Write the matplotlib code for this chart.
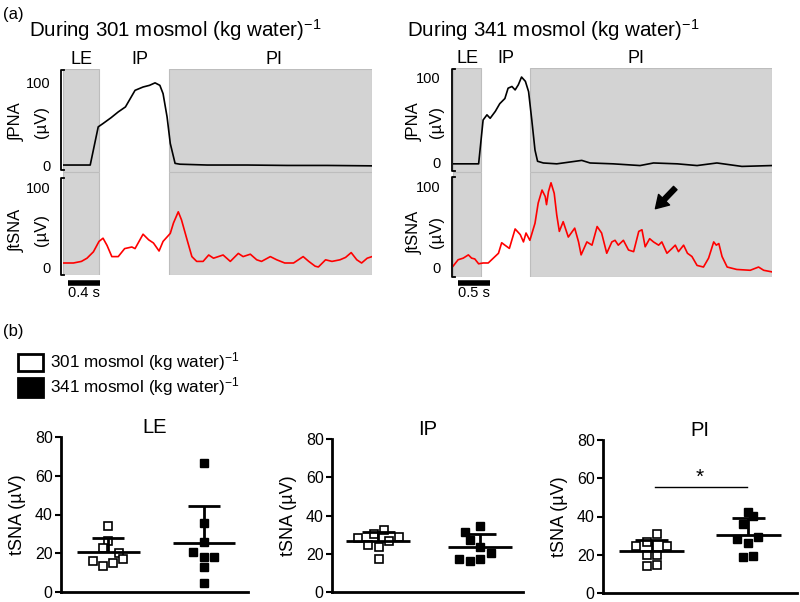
import numpy as np
import matplotlib
matplotlib.use('Agg')
import matplotlib.pyplot as plt
from matplotlib.lines import Line2D
from matplotlib.patches import Rectangle

plt.rcParams['font.family'] = ['Liberation Sans', 'DejaVu Sans']
plt.rcParams['mathtext.fontset'] = 'custom'
plt.rcParams['mathtext.rm'] = 'Liberation Sans'
plt.rcParams['mathtext.it'] = 'Liberation Sans:italic'
plt.rcParams['mathtext.bf'] = 'Liberation Sans:bold'

# ---- (a) traces, time in s, amplitude in uV ----
phases_301 = [0.0, 0.45, 1.33, 3.86]   # LE start, IP start, PI start, end
phases_341 = [0.0, 0.44, 1.20, 4.98]

pna_301_t = [0, 0.34, 0.44, 0.50, 0.60, 0.69, 0.78, 0.84, 0.90, 1.00, 1.08, 1.15,
             1.21, 1.25, 1.30, 1.34, 1.40, 1.46, 1.8, 2.3, 2.8, 3.3, 3.86]
pna_301_v = [0, 0, 46, 50, 57, 64, 70, 80, 90, 94, 96, 99,
             96, 86, 58, 26, 2, 1, 0, 0, -0.5, -0.5, -1]

sna_301_t = [0.00, 0.13, 0.23, 0.30, 0.38, 0.45, 0.50, 0.55, 0.61, 0.69, 0.77, 0.86,
             0.90, 1.00, 1.07, 1.13, 1.20, 1.25, 1.34, 1.38, 1.44, 1.48, 1.55, 1.61,
             1.67, 1.75, 1.82, 1.88, 1.94, 2.00, 2.09, 2.19, 2.25, 2.34, 2.42, 2.48,
             2.59, 2.67, 2.77, 2.88, 3.00, 3.07, 3.15, 3.19, 3.28, 3.36, 3.46, 3.53,
             3.60, 3.67, 3.73, 3.80, 3.86]
sna_301_v = [5, 5, 7, 11, 19, 32, 36, 27, 13, 13, 23, 25,
             23, 41, 34, 30, 20, 32, 42, 55, 69, 59, 34, 13,
             7, 7, 15, 11, 13, 15, 7, 17, 13, 16, 9, 7,
             13, 9, 5, 5, 13, 7, 1, 0, 9, 7, 9, 12,
             18, 9, 5, 11, 13]

pna_341_t = [0, 0.20, 0.40, 0.47, 0.53, 0.58, 0.66, 0.73, 0.81, 0.86, 0.92, 0.97,
             1.02, 1.07, 1.13, 1.18, 1.23, 1.28, 1.32, 1.41, 1.62, 2.01, 2.14, 2.50,
             2.92, 3.13, 3.50, 3.81, 4.12, 4.51, 4.98]
pna_341_v = [-1, -1, -1, 50, 56, 52, 60, 69, 75, 87, 89, 85,
             91, 100, 95, 83, 50, 15, 2, 0, -1, 3, 0, -1,
             -3, 0, -1, -3, 0, -4, -3]

sna_341_t = [0.00, 0.08, 0.16, 0.24, 0.29, 0.34, 0.40, 0.47, 0.55, 0.63, 0.71, 0.76,
             0.81, 0.88, 0.97, 1.05, 1.10, 1.14, 1.20, 1.28, 1.33, 1.39, 1.44, 1.46,
             1.49, 1.53, 1.58, 1.62, 1.66, 1.72, 1.80, 1.90, 1.96, 2.00, 2.09, 2.17,
             2.25, 2.32, 2.40, 2.48, 2.53, 2.58, 2.66, 2.74, 2.82, 2.90, 2.95, 3.00,
             3.07, 3.13, 3.21, 3.26, 3.34, 3.42, 3.47, 3.52, 3.60, 3.66, 3.73, 3.81,
             3.91, 3.99, 4.07, 4.11, 4.15, 4.20, 4.28, 4.43, 4.64, 4.77, 4.85, 4.98]
sna_341_v = [1, 9, 11, 15, 11, 10, 4, 5, 5, 11, 17, 30,
             27, 23, 47, 40, 31, 42, 33, 54, 79, 95, 87, 77,
             93, 104, 91, 64, 44, 56, 37, 48, 31, 15, 31, 27,
             50, 42, 17, 31, 33, 27, 33, 21, 19, 44, 46, 25,
             35, 31, 27, 31, 17, 23, 27, 19, 27, 17, 13, 2,
             0, 11, 31, 27, 29, 13, 0, -3, -4, 0, -4, -6]

# ---- (b) tSNA (uV) per rat ----
groups = ['301 mosmol (kg water)$^{-1}$', '341 mosmol (kg water)$^{-1}$']

le_301 = [34.2, 26.5, 22.9, 20.0, 16.9, 16.2, 14.8, 13.6]
le_301_x = [1.01, 1.01, 0.89, 1.23, 1.33, 0.68, 1.11, 0.89]
le_341 = [66.4, 35.8, 26.0, 20.8, 18.2, 18.2, 12.7, 4.8]
le_341_x = [3.06, 3.06, 3.06, 2.83, 3.06, 3.28, 3.06, 3.06]
le_centers = [1.01, 3.06]

ip_301 = [28.3, 30.2, 32.3, 24.5, 23.6, 26.6, 28.8, 17.1]
ip_301_x = [0.55, 0.87, 1.09, 0.76, 0.98, 1.20, 1.41, 0.98]
ip_341 = [31.4, 34.6, 27.1, 23.6, 20.4, 17.5, 16.1, 17.1]
ip_341_x = [2.79, 3.10, 2.89, 3.10, 3.32, 2.67, 2.89, 3.10]
ip_centers = [0.97, 3.10]

pi_301 = [30.8, 26.7, 24.7, 24.4, 20.0, 20.0, 13.9, 14.4]
pi_301_x = [1.11, 0.90, 0.69, 1.31, 0.90, 1.11, 0.90, 1.11]
pi_341 = [42.3, 40.4, 36.2, 28.4, 29.1, 26.1, 18.8, 19.5]
pi_341_x = [2.98, 3.09, 2.88, 2.77, 3.20, 2.98, 2.88, 3.10]
pi_centers = [1.00, 2.99]

W, H = 800, 602
fig = plt.figure(figsize=(8, 6.02), dpi=100)


def box(l, t, r, b):
    return [l / W, 1 - b / H, (r - l) / W, (b - t) / H]


def ftext(x, y, s, **kw):
    fig.text(x / W, 1 - y / H, s, **kw)


def bracket(x, top, bottom):
    xs = [x + 3, x, x, x + 3]
    ys = [top, top, bottom, bottom]
    fig.add_artist(Line2D([v / W for v in xs], [1 - v / H for v in ys],
                          color='black', lw=1.3))


def trace_axes(rect, edges, t, v, ylim, color):
    ax = fig.add_axes(rect)
    ax.axvspan(edges[0], edges[1], color='#d3d3d3', ec='#bdbdbd', lw=0.8)
    ax.axvspan(edges[2], edges[3], color='#d3d3d3', ec='#bdbdbd', lw=0.8)
    ax.plot(t, v, color=color, lw=1.2)
    ax.set_xlim(edges[0], edges[3])
    ax.set_ylim(*ylim)
    for s in ax.spines.values():
        s.set_visible(False)
    ax.set_xticks([])
    ax.set_yticks([0, 100])
    ax.tick_params(axis='y', length=0, pad=9, labelsize=10.5)
    return ax


# ---------- (a) ----------
ftext(3, 15, '(a)', fontsize=12, va='center')
ftext(29, 37, 'During 301 mosmol (kg water)$^{-1}$', fontsize=14.8, va='baseline')
ftext(407, 37, 'During 341 mosmol (kg water)$^{-1}$', fontsize=14.8, va='baseline')

a1 = trace_axes(box(63, 69, 372, 172), phases_301, pna_301_t, pna_301_v, (-8.4, 115.7), 'black')
a2 = trace_axes(box(63, 172, 372, 275), phases_301, sna_301_t, sna_301_v, (-10, 118.75), '#ff0000')
b1 = trace_axes(box(453, 68, 772, 172), phases_341, pna_341_t, pna_341_v, (-10.5, 110.5), 'black')
b2 = trace_axes(box(453, 172, 772, 277), phases_341, sna_341_t, sna_341_v, (-12.3, 117.3), '#ff0000')

for ax, lx in ((a1, [0.225, 0.96, 2.63]), (b1, [0.22, 0.82, 2.86])):
    for x, name in zip(lx, ['LE', 'IP', 'PI']):
        ax.text(x, 1.01, name, transform=ax.get_xaxis_transform(),
                ha='center', va='bottom', fontsize=13)

bracket(61, 70, 170)
bracket(61, 178, 275)
bracket(452, 69, 171)
bracket(452, 177, 277)

for x0, x1, y in ((17, 42, 122), (415, 436, 122)):
    ftext(x0, y, '∫PNA', rotation=90, ha='center', va='center', fontsize=12)
    ftext(x1, y, '(µV)', rotation=90, ha='center', va='center', fontsize=12)
for x0, x1, y in ((17, 42, 230), (415, 436, 232)):
    ftext(x0, y, '∫tSNA', rotation=90, ha='center', va='center', fontsize=12)
    ftext(x1, y, '(µV)', rotation=90, ha='center', va='center', fontsize=12)

# scale bars
a2.plot([0.06, 0.46], [-20, -20], color='black', lw=4, solid_capstyle='butt', clip_on=False)
a2.text(0.26, -33, '0.4 s', ha='center', va='center', fontsize=10.5)
b2.plot([0.08, 0.58], [-20, -20], color='black', lw=4, solid_capstyle='butt', clip_on=False)
b2.text(0.33, -32, '0.5 s', ha='center', va='center', fontsize=10.5)

# arrow on PI tSNA
b2.annotate('', xy=(3.16, 72), xytext=(3.47, 97.5),
            arrowprops=dict(width=3.5, headwidth=11, headlength=9, color='black'))

# ---------- (b) ----------
ftext(3, 332, '(b)', fontsize=12, va='center')
fig.add_artist(Rectangle((18 / W, 1 - 371 / H), 25 / W, 17 / H, fc='white', ec='black',
                         lw=2, transform=fig.transFigure))
fig.add_artist(Rectangle((18 / W, 1 - 397 / H), 25 / W, 19 / H, fc='black', ec='black',
                         lw=2, transform=fig.transFigure))
ftext(50, 362, groups[0], fontsize=12.3, va='center')
ftext(50, 387, groups[1], fontsize=12.3, va='center')

panels = [
    ('LE', box(61, 437, 248, 592), le_301, le_301_x, le_341, le_341_x, le_centers),
    ('IP', box(332, 439, 523, 592), ip_301, ip_301_x, ip_341, ip_341_x, ip_centers),
    ('PI', box(603, 440, 797, 593), pi_301, pi_301_x, pi_341, pi_341_x, pi_centers),
]

for name, rect, v1, x1, v2, x2, centers in panels:
    ax = fig.add_axes(rect)
    ax.plot(x1, v1, 's', ms=5.2, mfc='white', mec='black', mew=1.2, ls='none')
    ax.plot(x2, v2, 's', ms=5.8, mfc='black', mec='black', ls='none')
    for c, vals in zip(centers, (v1, v2)):
        m = np.mean(vals)
        sd = np.std(vals, ddof=1)
        ax.hlines(m, c - 0.67, c + 0.67, color='black', lw=2)
        ax.vlines(c, m, m + sd, color='black', lw=2)
        ax.hlines(m + sd, c - 0.34, c + 0.34, color='black', lw=2)
    ax.set_xlim(0, 4)
    ax.set_ylim(0, 80)
    ax.set_xticks([])
    ax.set_yticks([0, 20, 40, 60, 80])
    ax.tick_params(axis='y', length=4, width=1.5, labelsize=11.5, pad=2)
    for s in ('top', 'right'):
        ax.spines[s].set_visible(False)
    for s in ('left', 'bottom'):
        ax.spines[s].set_linewidth(2)
    ax.set_title(name, fontsize=14.5, pad=3)
    ax.set_ylabel('tSNA (µV)', fontsize=13, labelpad=6)
    if name == 'PI':
        ax.plot([1.07, 2.96], [55.4, 55.4], color='black', lw=1)
        ax.text(2.0, 55.5, '*', ha='center', va='bottom', fontsize=15)

fig.savefig('out.png', dpi=100)
